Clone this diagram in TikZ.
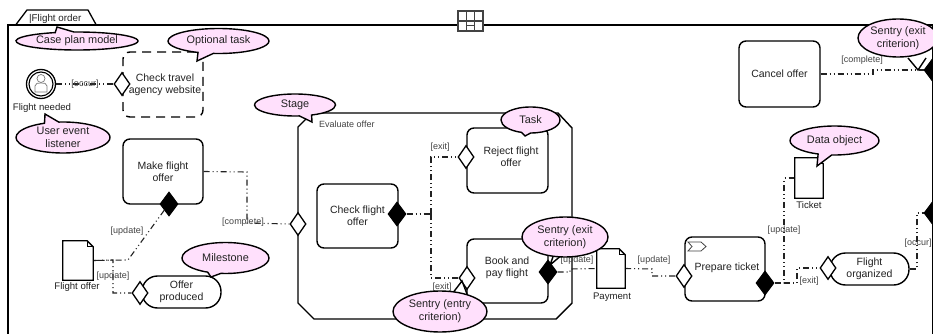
\documentclass[tikz,border=0pt]{standalone}
\usepackage{fontspec}
\setmainfont{Liberation Sans}
\usetikzlibrary{shapes.geometric,shapes.callouts,calc}
\definecolor{ink}{HTML}{222222}
\definecolor{pinkc}{HTML}{FFE0FC}
\tikzset{
  main/.style={font=\fontsize{10.5}{12.3}\selectfont,text=ink,align=center,inner sep=0pt},
  taskbox/.style={main,draw=black,line width=1.4pt,rounded corners=7pt,fill=white},
  optbox/.style={main,draw=black,line width=1.4pt,rounded corners=7pt,dash pattern=on 9pt off 6pt},
  stone/.style={main,draw=black,line width=1.4pt,rounded corners=15.5pt,fill=white},
  entry/.style={diamond,draw=black,line width=1.3pt,fill=white,inner sep=0pt,minimum width=16pt,minimum height=23pt},
  exitd/.style={diamond,draw=black,line width=1pt,fill=black,inner sep=0pt,minimum width=18pt,minimum height=24pt},
  link/.style={draw=ink,line width=1.1pt,dash pattern=on 6pt off 3pt on 1pt off 3pt on 1pt off 3pt},
  lab/.style={font=\fontsize{9}{10}\selectfont,text=ink!85,inner sep=0pt},
  captext/.style={main,font=\fontsize{9.6}{11}\selectfont},
  docbox/.style={inner sep=0pt},
  docline/.style={draw=black,line width=1.3pt,fill=white,line join=miter},
  bubbletext/.style={main,font=\fontsize{10.9}{13}\selectfont,draw=black,line width=1.4pt,fill=pinkc},
  bubble/.style={bubbletext,ellipse callout,callout pointer arc=18},
  plainbubble/.style={bubbletext,ellipse},
  tailw/.style={draw=black,line width=1.4pt,fill=white,line join=miter},
}
\newcommand{\docshape}[1]{%
  \draw[docline] (#1.north west) -- ($(#1.north east)+(-6,0)$) -- ($(#1.north east)+(0,6)$) -- (#1.south east) -- (#1.south west) -- cycle;
  \draw[draw=black,line width=0.8pt] ($(#1.north east)+(-6,0)$) -- ($(#1.north east)+(-6,6)$) -- ($(#1.north east)+(0,6)$);}
\begin{document}
\begin{tikzpicture}[x=1pt,y=-1pt]
\useasboundingbox (0,0) rectangle (933,334);
\fill[white] (0,0) rectangle (933,334);
\begin{scope}
\clip (0,0) rectangle (933,334);
% case plan
\draw[black,line width=1.3pt,fill=white] (16,24.5) -- (27,10) -- (88,10) -- (96,24.5);
\node[main,anchor=west,font=\fontsize{9.8}{11}\selectfont] (title) at (29,19) {|Flight order};
\node[draw=black,line width=1.5pt,minimum width=925pt,minimum height=330pt,inner sep=0pt,anchor=north west] (case) at (7,24.5) {};
\node[draw=ink!85,line width=1.3pt,fill=white,minimum width=25pt,minimum height=20pt,inner sep=0pt] (grid) at (470.5,21) {};
\draw[ink!85,line width=1.2pt] (466.2,11) -- (466.2,31) (474.8,11) -- (474.8,31) (458,21) -- (483,21) (466.2,25.5) -- (474.8,25.5);
% stage
\draw[black,line width=1.4pt,fill=white] (312,113) -- (558,113) -- (572,128) -- (572,303) -- (556,319) -- (314,319) -- (298,303) -- (298,127) -- cycle;
\node[lab,font=\fontsize{9}{10}\selectfont,anchor=west] (stagetitle) at (319,124) {Evaluate offer};
% nodes
\node[optbox,minimum width=80pt,minimum height=65pt] (t1) at (163,84.5) {};
\node[main] (t1t) at (165,84.5) {Check travel\\agency website};
\node[taskbox,minimum width=80pt,minimum height=65pt] (make) at (163,171.5) {Make flight\\offer};
\node[taskbox,minimum width=81pt,minimum height=64pt] (check) at (357.5,216) {Check flight\\offer};
\node[taskbox,minimum width=81pt,minimum height=65pt] (reject) at (507.5,160.5) {\phantom{x}};
\node[main] (rejectt) at (511,157) {Reject flight\\offer};
\node[taskbox,minimum width=81pt,minimum height=64pt] (book) at (507.5,271) {\phantom{x}};
\node[main] (bookt) at (507,268) {Book and\\pay flight};
\node[taskbox,minimum width=80pt,minimum height=64pt] (prep) at (725,269) {\phantom{x}};
\node[main] (prept) at (727,268) {Prepare ticket};
\node[taskbox,minimum width=81pt,minimum height=66pt] (cancel) at (779.5,74) {Cancel offer};
\node[stone,minimum width=79pt,minimum height=32pt] (off) at (181.5,292) {Offer\\produced};
\node[stone,minimum width=79pt,minimum height=32pt] (org) at (869.5,269) {Flight\\organized};
\draw[ink!85,line width=0.8pt,fill=white] (688,242) -- (701,242) -- (706,246.5) -- (701,251) -- (688,251) -- (692,246.5) -- cycle;
% documents
\node[docbox,minimum width=30pt,minimum height=39pt] (fo) at (78,260.5) {};
\node[docbox,minimum width=28pt,minimum height=39pt] (pay) at (611,268.5) {};
\node[docbox,minimum width=28pt,minimum height=40pt] (tick) at (809,178) {};
% sentries
\node[entry] (s1) at (122,84) {};
\node[entry] (s2) at (298,224) {};
\node[entry] (s3) at (466,157) {};
\node[entry] (s4) at (467,278) {};
\node[entry] (s5) at (684,276) {};
\node[entry] (s6) at (140,293) {};
\node[entry] (s7) at (828,268) {};
\node[exitd] (x1) at (169,204) {};
\node[exitd] (x2) at (397,214) {};
\node[exitd] (x3) at (548,272) {};
\node[exitd] (x4) at (765,283) {};
\node[exitd] (x5) at (933,70) {};
\node[exitd] (x6) at (933,213) {};
% user event
\node[circle,draw=black,line width=1.3pt,fill=white,minimum size=29pt,inner sep=0pt] (ev) at (41,84) {};
\node[circle,draw=black,line width=1.1pt,minimum size=24pt,inner sep=0pt] (evin) at (41,84) {};
\draw[ink!60,line width=0.7pt,fill=white] (35,92) -- (35,86) .. controls (35,83) and (38,83) .. (41,83) .. controls (44,83) and (47,83) .. (47,86) -- (47,92) -- cycle;
\node[circle,draw=ink!60,line width=0.7pt,fill=white,minimum size=8pt,inner sep=0pt] (evh) at (41,78.5) {};
% named bends
\coordinate (b1) at (247,172);
\coordinate (b2) at (247,223);
\coordinate (u1) at (128,260);
\coordinate (u2) at (113,260);
\coordinate (u3) at (113,293);
\coordinate (e0) at (431,214);
\coordinate (e1) at (431,157);
\coordinate (e2) at (431,278);
\coordinate (p1) at (570,272);
\coordinate (p2) at (570,269);
\coordinate (q1) at (652,269);
\coordinate (q2) at (652,276);
\coordinate (r1) at (784,283);
\coordinate (r2) at (784,178);
\coordinate (r3) at (797,283);
\coordinate (r4) at (797,268);
\coordinate (o1) at (917,269);
\coordinate (o2) at (917,213);
\coordinate (c1) at (873,74);
\coordinate (c2) at (873,70);
% connectors
\draw[link] (ev.east) -- (s1.west);
\draw[link] (x1.south west) -- (u1) -- (fo.east);
\draw[link] (fo.east) -- (u2) -- (u3) -- (s6.west);
\draw[link] (make.east) -- (b1) -- (b2) -- (s2.west);
\draw[link] (x2.east) -- (e0);
\draw[link] (e0) -- (e1) -- (s3.west);
\draw[link] (e0) -- (e2) -- (s4.west);
\draw[link] (x3.east) -- (p1) -- (p2) -- (pay.west);
\draw[link] (pay.east) -- (q1) -- (q2) -- (s5.west);
\draw[link] (x4.east) -- (r1) -- (r2) -- (tick.west);
\draw[link] (r1) -- (r3) -- (r4) -- (s7.west);
\draw[link] (org.east) -- (o1) -- (o2) -- (x6.west);
\draw[link] (cancel.east) -- (c1) -- (c2) -- (x5.west);
\docshape{fo}
\docshape{pay}
\docshape{tick}
% captions
\node[captext] (capev) at (42,108) {Flight needed};
\node[captext] (capfo) at (77,287) {Flight offer};
\node[captext] (cappay) at (612,297) {Payment};
\node[captext] (captick) at (809,205) {Ticket};
% labels
\node[lab] (l1) at (85,84) {[occur]};
\node[lab] (l2) at (127,231) {[update]};
\node[lab] (l3) at (113,276) {[update]};
\node[lab] (l4) at (243,222) {[complete]};
\node[lab] (l5) at (440,147) {[exit]};
\node[lab] (l6) at (442,287) {[exit]};
\node[lab] (l7) at (577,260) {[update]};
\node[lab] (l8) at (654,260) {[update]};
\node[lab] (l9) at (784,230) {[update]};
\node[lab] (l10) at (809,281) {[exit]};
\node[lab] (l11) at (918,243) {[occur]};
\node[lab] (l12) at (862,60) {[complete]};
% callouts
\node[bubble,minimum width=122pt,minimum height=18pt,callout absolute pointer={(57,27)}] (n1) at (77,41) {Case plan model};
\node[bubble,minimum width=101pt,minimum height=25pt,callout absolute pointer={(197,61)}] (n2) at (218.5,41) {Optional task};
\node[bubble,minimum width=94pt,minimum height=31pt,callout absolute pointer={(45,114)}] (n3) at (63,137.5) {User event\\listener};
\node[bubble,minimum width=81pt,minimum height=22pt,callout absolute pointer={(312,122)}] (n4) at (295,105) {Stage};
\node[bubble,minimum width=59pt,minimum height=26pt,callout absolute pointer={(525,136)}] (n5) at (530.5,120) {Task};
\node[bubble,minimum width=87pt,minimum height=31pt,callout absolute pointer={(211,277)}] (n6) at (225.5,258) {Milestone};
\node[bubble,minimum width=89pt,minimum height=29pt,callout absolute pointer={(817,166)}] (n7) at (834.5,140.5) {Data object};
\draw[tailw] (452,294) -- (462,281) -- (467,294);
\node[plainbubble,minimum width=94pt,minimum height=41pt] (n8) at (440,311.5) {Sentry (entry\\criterion)};
\draw[tailw] (554,254) -- (550,265) -- (563,254);
\node[plainbubble,minimum width=86pt,minimum height=40pt] (n9) at (565,237) {Sentry (exit\\criterion)};
\draw[tailw] (908,58) -- (918,70) -- (926,58);
\node[plainbubble,minimum width=80pt,minimum height=38pt] (n10) at (898,38) {Sentry (exit\\criterion)};
\end{scope}
\end{tikzpicture}
\end{document}
